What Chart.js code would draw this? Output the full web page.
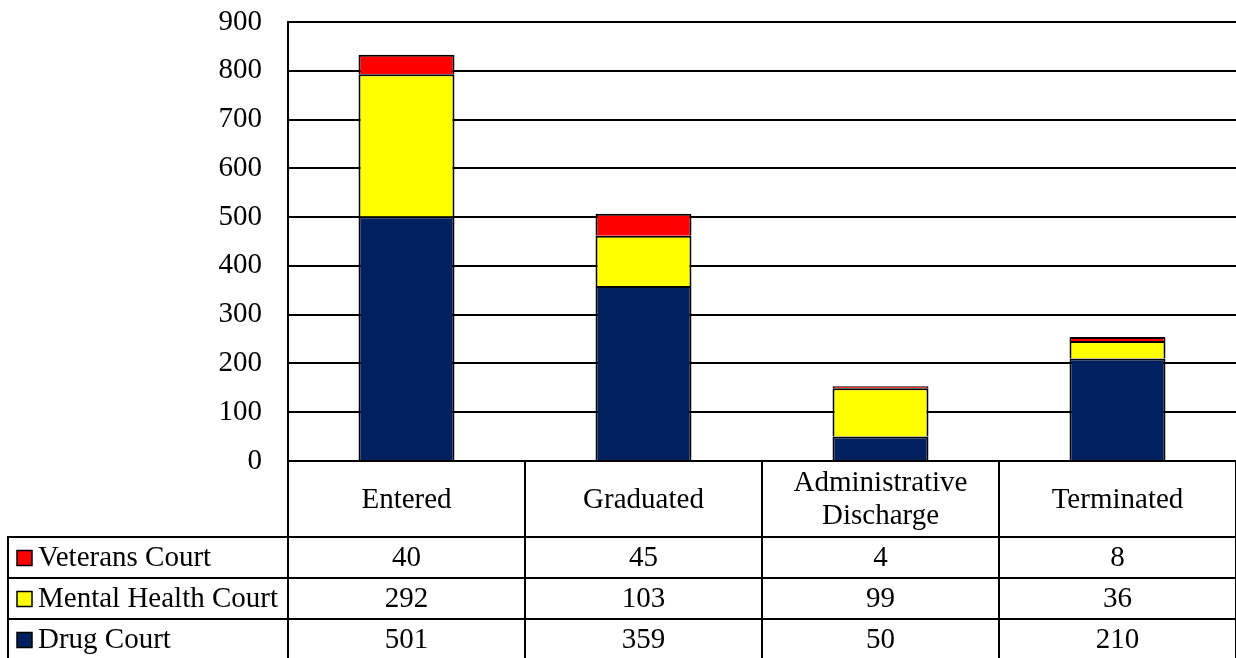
<!DOCTYPE html>
<html>
<head>
<meta charset="utf-8">
<script src="https://cdn.jsdelivr.net/npm/chart.js@4/dist/chart.umd.min.js"></script>
<style>
  html, body { margin: 0; padding: 0; background: #fff; }
  #wrap { width: 1236px; height: 658px; position: relative; }
</style>
</head>
<body>
<div id="wrap"><canvas id="c" width="1236" height="658"></canvas></div>
<script>
const categories = ['Entered', 'Graduated', 'Administrative\nDischarge', 'Terminated'];
const drugCourt = [501, 359, 50, 210];
const mentalHealthCourt = [292, 103, 99, 36];
const veteransCourt = [40, 45, 4, 8];
const yTicks = [0, 100, 200, 300, 400, 500, 600, 700, 800, 900];

const FONT = '"Liberation Serif", "Times New Roman", serif';
const FSIZE = 29;

const tablePlugin = {
  id: 'dataTable',
  afterDraw(chart) {
    const ctx = chart.ctx;
    const xs = chart.scales.x;
    const area = chart.chartArea;
    const n = categories.length;
    const catW = (area.right - area.left) / n;
    const top = area.bottom;
    const headerBottom = 537;
    const rowH = 41;
    const legendLeft = 8;
    const bottom = 658;
    ctx.save();
    ctx.strokeStyle = '#000';
    ctx.lineWidth = 2;
    for (let k = 0; k <= n; k++) {
      const x = Math.round(area.left + k * catW);
      ctx.beginPath(); ctx.moveTo(x, top); ctx.lineTo(x, bottom); ctx.stroke();
    }
    ctx.beginPath(); ctx.moveTo(legendLeft, headerBottom); ctx.lineTo(legendLeft, bottom); ctx.stroke();
    for (let r = 0; r < 3; r++) {
      const y = headerBottom + r * rowH;
      ctx.beginPath(); ctx.moveTo(legendLeft - 1, y); ctx.lineTo(area.right, y); ctx.stroke();
    }
    ctx.fillStyle = '#000';
    ctx.font = FSIZE + 'px ' + FONT;
    ctx.textAlign = 'center';
    ctx.textBaseline = 'middle';
    categories.forEach((c, i) => {
      const cx = xs.getPixelForValue(i);
      const lines = c.split('\n');
      const lh = 33;
      const mid = (top + headerBottom) / 2 + 1;
      lines.forEach((l, j) => {
        ctx.fillText(l, cx, mid + (j - (lines.length - 1) / 2) * lh);
      });
    });
    const rows = [
      { label: 'Veterans Court', data: veteransCourt, color: '#FF0000' },
      { label: 'Mental Health Court', data: mentalHealthCourt, color: '#FFFF00' },
      { label: 'Drug Court', data: drugCourt, color: '#002060' }
    ];
    rows.forEach((row, r) => {
      const ymid = headerBottom + r * rowH + rowH / 2 + 1;
      ctx.fillStyle = row.color;
      ctx.fillRect(17, ymid - 8, 15, 15);
      ctx.lineWidth = 1.5;
      ctx.strokeStyle = '#000';
      ctx.strokeRect(17, ymid - 8, 15, 15);
      ctx.fillStyle = '#000';
      ctx.textAlign = 'left';
      ctx.fillText(row.label, 38, ymid);
      ctx.textAlign = 'center';
      row.data.forEach((v, i) => {
        ctx.fillText(String(v), xs.getPixelForValue(i), ymid);
      });
    });
    ctx.restore();
  }
};

new Chart(document.getElementById('c'), {
  type: 'bar',
  data: {
    labels: categories,
    datasets: [
      { label: 'Drug Court', data: drugCourt, backgroundColor: '#002060', borderColor: '#000', borderWidth: 2 },
      { label: 'Mental Health Court', data: mentalHealthCourt, backgroundColor: '#FFFF00', borderColor: '#000', borderWidth: 2 },
      { label: 'Veterans Court', data: veteransCourt, backgroundColor: '#FF0000', borderColor: '#000', borderWidth: 2 }
    ]
  },
  options: {
    responsive: false,
    animation: false,
    devicePixelRatio: 1,
    layout: { padding: { top: 22, bottom: 197, right: 0, left: 0 } },
    plugins: { legend: { display: false }, tooltip: { enabled: false } },
    datasets: { bar: { categoryPercentage: 1, barPercentage: 0.405 } },
    scales: {
      x: { stacked: true, display: false },
      y: {
        stacked: true,
        min: 0, max: 900,
        afterFit(scale) { scale.width = 288; scale.paddingTop = 0; scale.paddingBottom = 0; },
        afterBuildTicks(scale) { scale.ticks = yTicks.map(v => ({ value: v })); },
        ticks: { color: '#000', font: { family: FONT, size: FSIZE }, padding: 26 },
        grid: { color: '#000', lineWidth: 2, drawTicks: false },
        border: { color: '#000', width: 2 }
      }
    }
  },
  plugins: [tablePlugin]
});
</script>
</body>
</html>
